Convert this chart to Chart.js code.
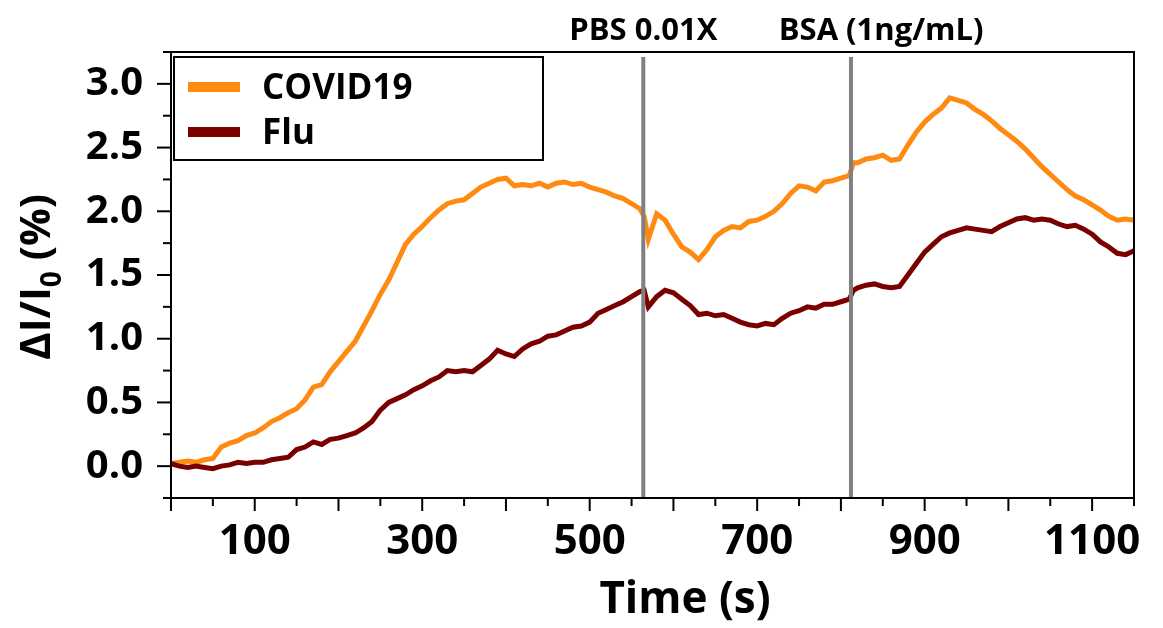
<!DOCTYPE html>
<html>
<head>
<meta charset="utf-8">
<script src="https://cdn.jsdelivr.net/npm/chart.js@4.4.0/dist/chart.umd.min.js"></script>
<style>
  html, body { margin: 0; padding: 0; background: #fff; }
  #wrap { width: 1163px; height: 628px; position: relative; }
</style>
</head>
<body>
<div id="wrap"><canvas id="chart-line"></canvas></div>
<script>
// time (s)
var times = [
  0, 10, 20, 30, 40, 50, 60, 70, 80, 90,
  100, 110, 120, 130, 140, 150, 160, 170, 180, 190,
  200, 210, 220, 230, 240, 250, 260, 270, 280, 290,
  300, 310, 320, 330, 340, 350, 360, 370, 380, 390,
  400, 410, 420, 430, 440, 450, 460, 470, 480, 490,
  500, 510, 520, 530, 540, 550, 560, 565,
  570, 580, 590, 600, 610, 620, 630, 640, 650, 660,
  670, 680, 690, 700, 710, 720, 730, 740, 750, 760,
  770, 780, 790, 800, 810, 815,
  820, 830, 840, 850, 860, 870, 880, 890, 900, 910,
  920, 930, 940, 950, 960, 970, 980, 990, 1000, 1010,
  1020, 1030, 1040, 1050, 1060, 1070, 1080, 1090, 1100, 1110,
  1120, 1130, 1140, 1150
];

var covid = [
  0.02, 0.03, 0.04, 0.03, 0.05, 0.06, 0.15, 0.18, 0.20, 0.24,
  0.26, 0.30, 0.35, 0.38, 0.42, 0.45, 0.52, 0.62, 0.64, 0.74,
  0.82, 0.90, 0.98, 1.10, 1.22, 1.35, 1.46, 1.60, 1.74, 1.82,
  1.88, 1.95, 2.01, 2.06, 2.08, 2.09, 2.14, 2.19, 2.22, 2.25,
  2.26, 2.20, 2.21, 2.20, 2.22, 2.19, 2.22, 2.23, 2.21, 2.22,
  2.19, 2.17, 2.15, 2.12, 2.10, 2.06, 2.02, 1.96,
  1.78, 1.98, 1.93, 1.82, 1.72, 1.68, 1.62, 1.70, 1.80, 1.85,
  1.88, 1.87, 1.92, 1.93, 1.96, 2.00, 2.06, 2.14, 2.20, 2.19,
  2.16, 2.23, 2.24, 2.26, 2.28, 2.38,
  2.38, 2.41, 2.42, 2.44, 2.40, 2.41, 2.52, 2.62, 2.70, 2.76,
  2.81, 2.89, 2.87, 2.85, 2.80, 2.76, 2.71, 2.65, 2.60, 2.55,
  2.49, 2.42, 2.35, 2.29, 2.23, 2.17, 2.12, 2.09, 2.05, 2.01,
  1.96, 1.93, 1.94, 1.93
];

var flu = [
  0.02, 0.00, -0.01, 0.00, -0.01, -0.02, 0.00, 0.01, 0.03, 0.02,
  0.03, 0.03, 0.05, 0.06, 0.07, 0.13, 0.15, 0.19, 0.17, 0.21,
  0.22, 0.24, 0.26, 0.30, 0.35, 0.44, 0.50, 0.53, 0.56, 0.60,
  0.63, 0.67, 0.70, 0.75, 0.74, 0.75, 0.74, 0.79, 0.84, 0.91,
  0.88, 0.86, 0.92, 0.96, 0.98, 1.02, 1.03, 1.06, 1.09, 1.10,
  1.13, 1.20, 1.23, 1.26, 1.29, 1.33, 1.37, 1.38,
  1.25, 1.33, 1.38, 1.36, 1.31, 1.26, 1.19, 1.20, 1.18, 1.19,
  1.16, 1.13, 1.11, 1.10, 1.12, 1.11, 1.16, 1.20, 1.22, 1.25,
  1.24, 1.27, 1.27, 1.29, 1.31, 1.38,
  1.40, 1.42, 1.43, 1.41, 1.40, 1.41, 1.50, 1.59, 1.68, 1.74,
  1.80, 1.83, 1.85, 1.87, 1.86, 1.85, 1.84, 1.88, 1.91, 1.94,
  1.95, 1.93, 1.94, 1.93, 1.90, 1.88, 1.89, 1.86, 1.82, 1.76,
  1.72, 1.67, 1.66, 1.69
];

var xTicks = [100, 300, 500, 700, 900, 1100];
var yTicks = [0, 0.5, 1.0, 1.5, 2.0, 2.5, 3.0];

// injection markers (time in s)
var markerTimes = [564, 812];
var markerLabels = ["PBS 0.01X", "BSA (1ng/mL)"];

var seriesNames = ["COVID19", "Flu"];
var seriesColors = ["#ff8a12", "#7a0000"];

function toPoints(xs, ys) {
  return xs.map(function (t, i) { return { x: t, y: ys[i] }; });
}

Chart.defaults.font.family = "Open Sans";
Chart.defaults.font.weight = "bold";
Chart.defaults.color = "#000";

// frame, tick marks, marker lines, legend and titles
var decorations = {
  id: "decorations",
  afterDatasetsDraw: function (chart) {
    var ctx = chart.ctx;
    var a = chart.chartArea;
    var xs = chart.scales.x;
    var ys = chart.scales.y;
    ctx.save();

    // grey marker lines
    ctx.strokeStyle = "#808080";
    ctx.lineWidth = 4;
    markerTimes.forEach(function (t) {
      var px = xs.getPixelForValue(t);
      ctx.beginPath();
      ctx.moveTo(px, ys.getPixelForValue(3.21));
      ctx.lineTo(px, a.bottom);
      ctx.stroke();
    });

    // frame
    ctx.strokeStyle = "#000";
    ctx.lineWidth = 2;
    ctx.strokeRect(a.left, a.top, a.right - a.left, a.bottom - a.top);

    // y tick marks
    for (var v = -0.25; v <= 3.26; v += 0.25) {
      var py = ys.getPixelForValue(v);
      var major = Math.abs(v * 2 - Math.round(v * 2)) < 1e-6;
      ctx.beginPath();
      ctx.moveTo(a.left - (major ? 14 : 8), py);
      ctx.lineTo(a.left, py);
      ctx.stroke();
    }
    // x tick marks
    for (var t = 0; t <= 1150; t += 50) {
      var px2 = xs.getPixelForValue(t);
      var majorX = t % 100 === 0;
      ctx.beginPath();
      ctx.moveTo(px2, a.bottom);
      ctx.lineTo(px2, a.bottom + (majorX ? 13 : 8));
      ctx.stroke();
    }

    // marker labels
    ctx.fillStyle = "#000";
    ctx.font = "bold 31px 'Open Sans'";
    ctx.textBaseline = "alphabetic";
    ctx.textAlign = "center";
    ctx.fillText(markerLabels[0], xs.getPixelForValue(markerTimes[0]), 40);
    ctx.fillText(markerLabels[1], xs.getPixelForValue(markerTimes[1] + 36), 40);

    // legend
    var lx = a.left + 3, ly = a.top + 5;
    ctx.lineWidth = 2;
    ctx.strokeStyle = "#000";
    ctx.strokeRect(lx, ly, 369, 103);
    ctx.textAlign = "left";
    ctx.font = "bold 35px 'Open Sans'";
    seriesNames.forEach(function (name, i) {
      var cy = ly + 30 + i * 45;
      ctx.strokeStyle = seriesColors[i];
      ctx.lineWidth = 10;
      ctx.beginPath();
      ctx.moveTo(lx + 14, cy);
      ctx.lineTo(lx + 66, cy);
      ctx.stroke();
      ctx.fillText(name, lx + 88, cy + 12);
    });

    // x axis title
    ctx.textAlign = "center";
    ctx.font = "bold 44px 'Open Sans'";
    ctx.fillText("Time (s)", 685, 613);

    // y axis title with subscript
    ctx.translate(50, 277);
    ctx.rotate(-Math.PI / 2);
    var big = "bold 42px 'Open Sans'", small = "bold 28px 'Open Sans'";
    var p1 = "\u0394I/I", p2 = "0", p3 = " (%)";
    ctx.font = big;
    var w1 = ctx.measureText(p1).width, w3 = ctx.measureText(p3).width;
    ctx.font = small;
    var w2 = ctx.measureText(p2).width;
    var x0 = -(w1 + w2 + w3) / 2;
    ctx.textAlign = "left";
    ctx.font = big;
    ctx.fillText(p1, x0, 0);
    ctx.font = small;
    ctx.fillText(p2, x0 + w1, 11);
    ctx.font = big;
    ctx.fillText(p3, x0 + w1 + w2, 0);

    ctx.restore();
  }
};

new Chart(document.getElementById("chart-line").getContext("2d"), {
  type: "line",
  data: {
    datasets: [
      {
        label: seriesNames[0],
        data: toPoints(times, covid),
        borderColor: seriesColors[0],
        borderWidth: 5,
        pointRadius: 0,
        tension: 0,
        order: 2,
      },
      {
        label: seriesNames[1],
        data: toPoints(times, flu),
        borderColor: seriesColors[1],
        borderWidth: 5,
        pointRadius: 0,
        tension: 0,
        order: 1,
      },
    ],
  },
  options: {
    responsive: true,
    maintainAspectRatio: false,
    animation: false,
    layout: { padding: { left: 0, right: 29, top: 52, bottom: 0 } },
    plugins: {
      legend: { display: false },
      tooltip: { enabled: false },
    },
    scales: {
      x: {
        type: "linear",
        min: 0,
        max: 1150,
        grid: { display: false, drawTicks: false },
        border: { display: false },
        afterBuildTicks: function (scale) {
          scale.ticks = xTicks.map(function (v) { return { value: v }; });
        },
        afterFit: function (scale) { scale.height = 130; },
        ticks: {
          autoSkip: false,
          maxRotation: 0,
          padding: 19,
          color: "#000",
          font: { size: 42, weight: "bold" },
          callback: function (v) { return String(v); },
        },
      },
      y: {
        min: -0.25,
        max: 3.25,
        grid: { display: false, drawTicks: false },
        border: { display: false },
        afterBuildTicks: function (scale) {
          scale.ticks = yTicks.map(function (v) { return { value: v }; });
        },
        afterFit: function (scale) { scale.width = 171; },
        ticks: {
          autoSkip: false,
          padding: 28,
          color: "#000",
          font: { size: 40, weight: "bold" },
          callback: function (v) { return Number(v).toFixed(1); },
        },
      },
    },
  },
  plugins: [decorations],
});
</script>
</body>
</html>
